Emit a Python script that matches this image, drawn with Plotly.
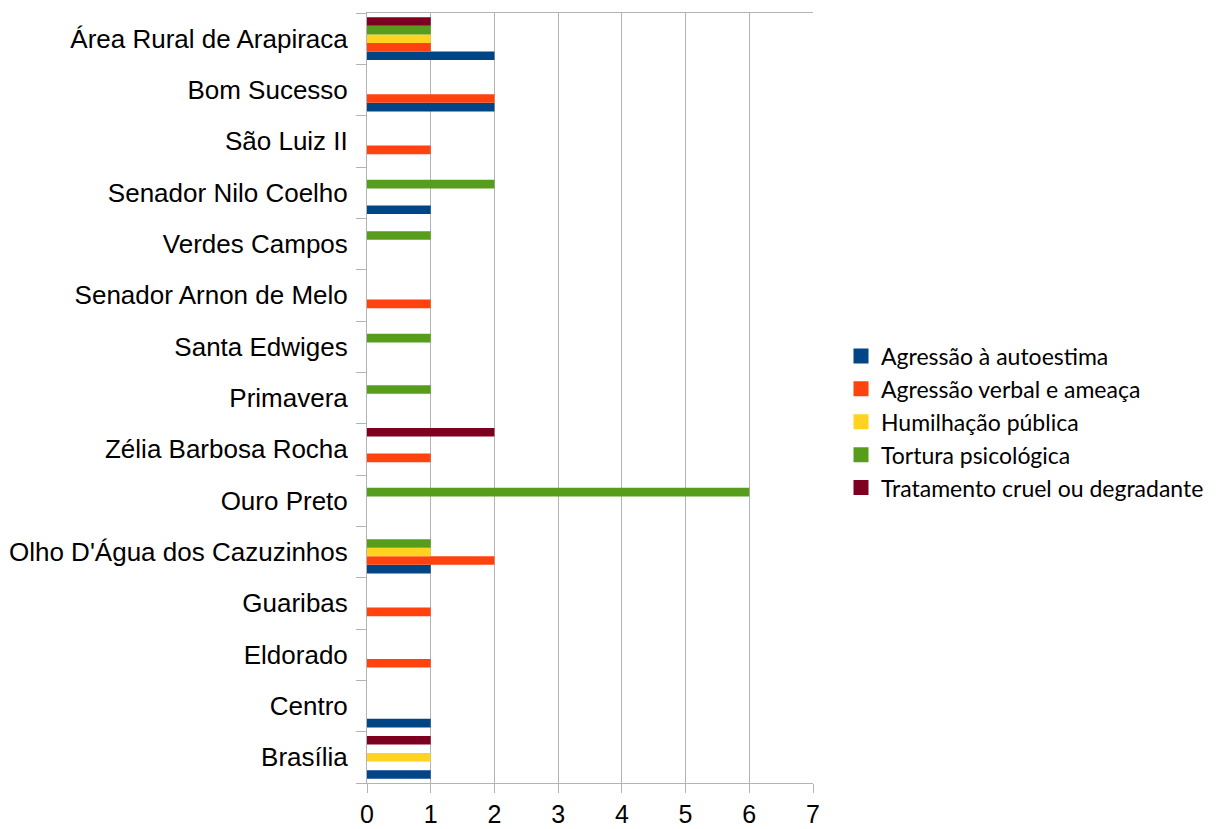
import plotly.graph_objects as go

categories = [
    "Brasília", "Centro", "Eldorado", "Guaribas", "Olho D'Água dos Cazuzinhos",
    "Ouro Preto", "Zélia Barbosa Rocha", "Primavera", "Santa Edwiges",
    "Senador Arnon de Melo", "Verdes Campos", "Senador Nilo Coelho",
    "São Luiz II", "Bom Sucesso", "Área Rural de Arapiraca",
]

series_names = [
    "Agressão à autoestima",
    "Agressão verbal e ameaça",
    "Humilhação pública",
    "Tortura psicológica",
    "Tratamento cruel ou degradante",
]

agressao_autoestima = [1, 1, 0, 0, 1, 0, 0, 0, 0, 0, 0, 1, 0, 2, 2]
agressao_verbal = [0, 0, 1, 1, 2, 0, 1, 0, 0, 1, 0, 0, 1, 2, 1]
humilhacao_publica = [1, 0, 0, 0, 1, 0, 0, 0, 0, 0, 0, 0, 0, 0, 1]
tortura_psicologica = [0, 0, 0, 0, 1, 6, 0, 1, 1, 0, 1, 2, 0, 0, 1]
tratamento_cruel = [1, 0, 0, 0, 0, 0, 2, 0, 0, 0, 0, 0, 0, 0, 1]

series_values = [agressao_autoestima, agressao_verbal, humilhacao_publica,
                 tortura_psicologica, tratamento_cruel]
colors = ["#004586", "#ff420e", "#ffd320", "#579d1c", "#7e0021"]

x_ticks = [0, 1, 2, 3, 4, 5, 6, 7]

LABEL_FONT = "Liberation Sans, Arial, sans-serif"

fig = go.Figure()
for i, (name, vals, col) in enumerate(zip(series_names, series_values, colors)):
    fig.add_trace(go.Bar(
        y=categories, x=vals, name=name, orientation="h",
        marker=dict(color=col, line=dict(width=0)),
        legendgroup=f"g{i}", showlegend=False,
    ))
# legend entries with larger square swatches
for i, (name, col) in enumerate(zip(series_names, colors)):
    fig.add_trace(go.Scatter(
        x=[None], y=[None], mode="markers", name=name,
        marker=dict(symbol="square", size=15, color=col, line=dict(width=0)),
        legendgroup=f"g{i}", showlegend=True, hoverinfo="skip",
    ))

W, H = 1229, 829
fig.update_layout(
    width=W, height=H,
    barmode="group",
    bargap=1/6,
    bargroupgap=0,
    plot_bgcolor="white",
    paper_bgcolor="white",
    margin=dict(l=367, r=W - 813, t=13, b=H - 783, autoexpand=False),
    font=dict(family=LABEL_FONT, size=26, color="#000000"),
    legend=dict(
        xref="container", yref="container",
        x=841 / W, y=1 - 422 / H,
        xanchor="left", yanchor="middle",
        font=dict(family="Lato, Carlito, sans-serif", size=23, color="#000000"),
        tracegroupgap=0,
        bgcolor="rgba(0,0,0,0)",
    ),
    showlegend=True,
)
fig.update_xaxes(
    range=[0, 7], tickvals=x_ticks, ticktext=[str(t) for t in x_ticks],
    showgrid=True, gridcolor="#b3b3b3", gridwidth=1,
    showline=True, linecolor="#b3b3b3", linewidth=1, mirror=True,
    ticks="outside", ticklen=9, tickcolor="#b3b3b3",
    zeroline=False,
    tickfont=dict(family=LABEL_FONT, size=25, color="#000000"),
)
fig.update_yaxes(
    type="category", categoryorder="array", categoryarray=categories,
    showgrid=False,
    showline=True, linecolor="#b3b3b3", linewidth=1, mirror=False,
    ticks="outside", ticklen=10, tickcolor="#b3b3b3", tickson="boundaries",
    ticklabelstandoff=13,
    tickfont=dict(family=LABEL_FONT, size=26, color="#000000"),
)

fig.write_html("out.html", config={"displayModeBar": False},
               post_script="document.body.style.margin='0';")
